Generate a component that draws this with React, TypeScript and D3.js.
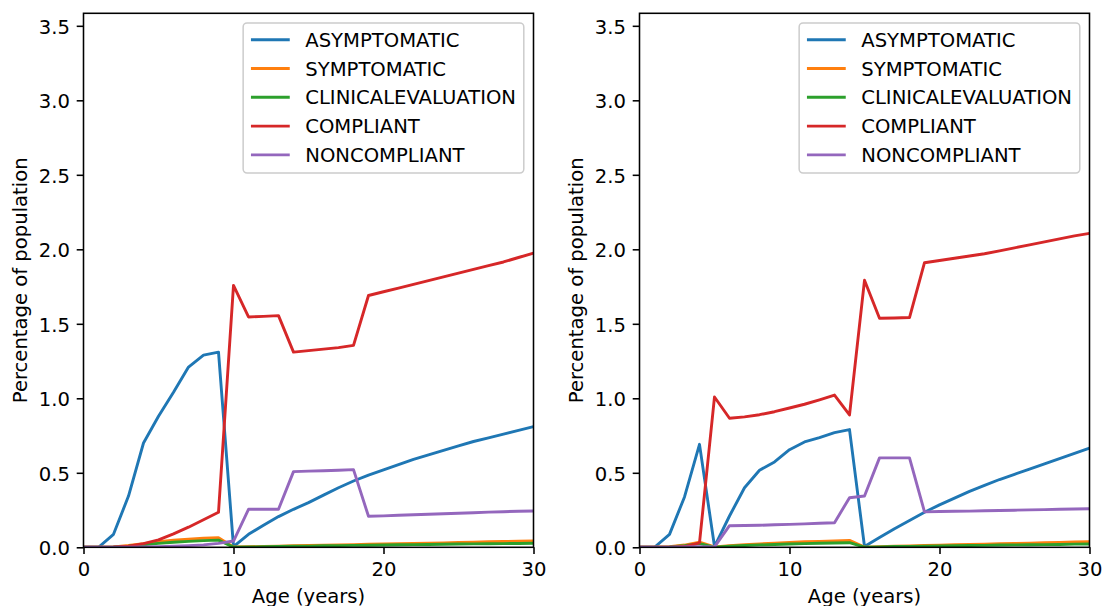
import React, { useEffect, useRef } from 'react';
import * as d3 from 'd3';

// ages (years), one point per year
const ages = [0, 1, 2, 3, 4, 5, 6, 7, 8, 9, 10, 11, 12, 13, 14, 15, 16, 17, 18, 19, 20, 21, 22, 23, 24, 25, 26, 27, 28, 29, 30];

const seriesNames = ['ASYMPTOMATIC', 'SYMPTOMATIC', 'CLINICALEVALUATION', 'COMPLIANT', 'NONCOMPLIANT'];
const seriesColors = ['#1f77b4', '#ff7f0e', '#2ca02c', '#d62728', '#9467bd'];

// left panel
const asymptomaticA = [0, 0, 0.087, 0.344, 0.7, 0.88, 1.04, 1.21, 1.29, 1.31, 0.005, 0.087, 0.148, 0.206, 0.255, 0.3, 0.35, 0.4, 0.445, 0.485, 0.52, 0.555, 0.59, 0.62, 0.65, 0.68, 0.71, 0.735, 0.76, 0.785, 0.81];
const symptomaticA = [0, 0, 0.003, 0.012, 0.025, 0.037, 0.047, 0.055, 0.061, 0.064, 0.002, 0.004, 0.006, 0.008, 0.01, 0.012, 0.014, 0.016, 0.018, 0.02, 0.022, 0.024, 0.026, 0.028, 0.03, 0.032, 0.035, 0.037, 0.039, 0.041, 0.043];
const clinicalA = [0, 0, 0.002, 0.008, 0.017, 0.026, 0.034, 0.04, 0.045, 0.048, 0.001, 0.002, 0.004, 0.005, 0.007, 0.008, 0.01, 0.011, 0.013, 0.014, 0.015, 0.017, 0.018, 0.019, 0.02, 0.022, 0.023, 0.024, 0.025, 0.026, 0.027];
const compliantA = [0, 0, 0.002, 0.008, 0.025, 0.05, 0.09, 0.135, 0.185, 0.235, 1.758, 1.546, 1.55, 1.555, 1.31, 1.32, 1.33, 1.34, 1.355, 1.69, 1.715, 1.74, 1.765, 1.79, 1.815, 1.84, 1.865, 1.89, 1.915, 1.945, 1.975];
const noncompliantA = [0, 0, 0, 0.001, 0.002, 0.004, 0.007, 0.011, 0.016, 0.026, 0.042, 0.255, 0.255, 0.255, 0.508, 0.511, 0.514, 0.517, 0.521, 0.208, 0.211, 0.215, 0.218, 0.222, 0.225, 0.229, 0.232, 0.236, 0.239, 0.242, 0.244];

// right panel
const asymptomaticB = [0, 0, 0.087, 0.338, 0.691, 0.005, 0.21, 0.4, 0.517, 0.573, 0.655, 0.707, 0.736, 0.77, 0.79, 0.005, 0.065, 0.125, 0.18, 0.235, 0.285, 0.33, 0.375, 0.415, 0.455, 0.49, 0.525, 0.56, 0.595, 0.63, 0.665];
const symptomaticB = [0, 0, 0.004, 0.015, 0.035, 0.002, 0.01, 0.017, 0.023, 0.028, 0.033, 0.037, 0.04, 0.043, 0.046, 0.001, 0.004, 0.007, 0.009, 0.012, 0.014, 0.017, 0.019, 0.021, 0.024, 0.026, 0.028, 0.031, 0.033, 0.036, 0.038];
const clinicalB = [0, 0, 0.003, 0.011, 0.025, 0.001, 0.007, 0.012, 0.016, 0.019, 0.022, 0.025, 0.027, 0.029, 0.031, 0.001, 0.003, 0.005, 0.006, 0.008, 0.009, 0.011, 0.012, 0.013, 0.015, 0.016, 0.017, 0.018, 0.019, 0.021, 0.022];
const compliantB = [0, 0, 0, 0.005, 0.03, 1.009, 0.866, 0.875, 0.89, 0.91, 0.935, 0.96, 0.99, 1.022, 0.888, 1.792, 1.537, 1.539, 1.542, 1.91, 1.925, 1.94, 1.955, 1.97, 1.99, 2.01, 2.03, 2.05, 2.07, 2.09, 2.107];
const noncompliantB = [0, 0, 0, 0.002, 0.004, 0.003, 0.145, 0.146, 0.148, 0.151, 0.154, 0.157, 0.161, 0.165, 0.333, 0.344, 0.6, 0.6, 0.6, 0.238, 0.24, 0.242, 0.243, 0.245, 0.247, 0.249, 0.251, 0.253, 0.255, 0.257, 0.259];

const xTicks = [0, 10, 20, 30];
const yTicks = [0, 0.5, 1, 1.5, 2, 2.5, 3, 3.5];
const xLabel = 'Age (years)';
const yLabel = 'Percentage of population';

const W = 1104;
const H = 606;
const FONT = '"DejaVu Sans", "Liberation Sans", sans-serif';
const FS = 19.6;
const panelLefts = [83.5, 639.5];
const panelW = 450;
const top = 13.3;
const bottom = 547.3;
const yMax = 3.584;

const App = () => {
  const ref = useRef<SVGSVGElement>(null);

  useEffect(() => {
    const svg = d3.select(ref.current);
    svg.selectAll('*').remove();
    svg.append('rect').attr('width', W).attr('height', H).attr('fill', '#fff');

    const panels = [
      [asymptomaticA, symptomaticA, clinicalA, compliantA, noncompliantA],
      [asymptomaticB, symptomaticB, clinicalB, compliantB, noncompliantB],
    ];

    panels.forEach((series, p) => {
      const left = panelLefts[p];
      const right = left + panelW;
      const x = d3.scaleLinear().domain([0, 30]).range([left, right]);
      const y = d3.scaleLinear().domain([0, yMax]).range([bottom, top]);
      const g = svg.append('g');

      const clipId = `clip-${p}`;
      g.append('clipPath')
        .attr('id', clipId)
        .append('rect')
        .attr('x', left)
        .attr('y', top)
        .attr('width', panelW)
        .attr('height', bottom - top);

      const line = d3
        .line<number>()
        .x((d, i) => x(ages[i]))
        .y((d) => y(d));

      series.forEach((vals, i) => {
        g.append('path')
          .datum(vals)
          .attr('d', line)
          .attr('fill', 'none')
          .attr('stroke', seriesColors[i])
          .attr('stroke-width', 2.9)
          .attr('stroke-linejoin', 'round')
          .attr('stroke-linecap', 'butt')
          .attr('clip-path', `url(#${clipId})`);
      });

      // x axis
      const xa = g
        .append('g')
        .attr('transform', `translate(0,${bottom})`)
        .call(
          d3.axisBottom(x).tickValues(xTicks).tickSize(6.8).tickSizeOuter(0).tickPadding(6.8).tickFormat(d3.format('d'))
        );
      xa.select('.domain').remove();
      xa.selectAll('line').attr('stroke', '#000').attr('stroke-width', 1.56);
      xa.selectAll('text').attr('font-family', FONT).attr('font-size', FS).attr('fill', '#000').attr('dy', '0.76em');

      // y axis
      const ya = g
        .append('g')
        .attr('transform', `translate(${left},0)`)
        .call(
          d3.axisLeft(y).tickValues(yTicks).tickSize(6.8).tickSizeOuter(0).tickPadding(6.8).tickFormat(d3.format('.1f'))
        );
      ya.select('.domain').remove();
      ya.selectAll('line').attr('stroke', '#000').attr('stroke-width', 1.56);
      ya.selectAll('text').attr('font-family', FONT).attr('font-size', FS).attr('fill', '#000').attr('dy', '0.38em');

      // spines
      g.append('rect')
        .attr('x', left)
        .attr('y', top)
        .attr('width', panelW)
        .attr('height', bottom - top)
        .attr('fill', 'none')
        .attr('stroke', '#000')
        .attr('stroke-width', 1.56);

      // axis labels
      g.append('text')
        .attr('x', (left + right) / 2)
        .attr('y', 602.5)
        .attr('text-anchor', 'middle')
        .attr('font-family', FONT)
        .attr('font-size', FS)
        .text(xLabel);

      g.append('text')
        .attr('transform', `translate(${left - 56.5},${(top + bottom) / 2}) rotate(-90)`)
        .attr('text-anchor', 'middle')
        .attr('font-family', FONT)
        .attr('font-size', FS)
        .text(yLabel);

      // legend
      const legend = g.append('g');
      const frame = legend.append('rect');
      const boxTop = top + 9.7;
      const rowStart = boxTop + 16.7;
      const rowStep = 28.8;
      let maxW = 0;
      seriesNames.forEach((name, i) => {
        const texts = legend
          .append('text')
          .attr('font-family', FONT)
          .attr('font-size', FS)
          .attr('y', rowStart + i * rowStep)
          .attr('dy', '0.36em')
          .text(name);
        const node = texts.node() as SVGTextElement;
        maxW = Math.max(maxW, node.getComputedTextLength());
      });
      const boxW = 7.8 + 38.8 + 15.5 + maxW + 7.8;
      const boxLeft = right - 9.7 - boxW;
      frame
        .attr('x', boxLeft)
        .attr('y', boxTop)
        .attr('width', boxW)
        .attr('height', 150)
        .attr('rx', 3.9)
        .attr('fill', '#fff')
        .attr('fill-opacity', 0.8)
        .attr('stroke', '#cccccc')
        .attr('stroke-width', 1.5);
      legend.selectAll('text').attr('x', boxLeft + 7.8 + 38.8 + 15.5);
      seriesNames.forEach((name, i) => {
        legend
          .append('line')
          .attr('x1', boxLeft + 7.8)
          .attr('x2', boxLeft + 7.8 + 38.8)
          .attr('y1', rowStart + i * rowStep)
          .attr('y2', rowStart + i * rowStep)
          .attr('stroke', seriesColors[i])
          .attr('stroke-width', 2.9);
      });
    });
  }, []);

  return (
    <svg
      ref={ref}
      width={W}
      height={H}
      style={{ position: 'absolute', left: 0, top: 0, display: 'block' }}
    />
  );
};

export default App;
